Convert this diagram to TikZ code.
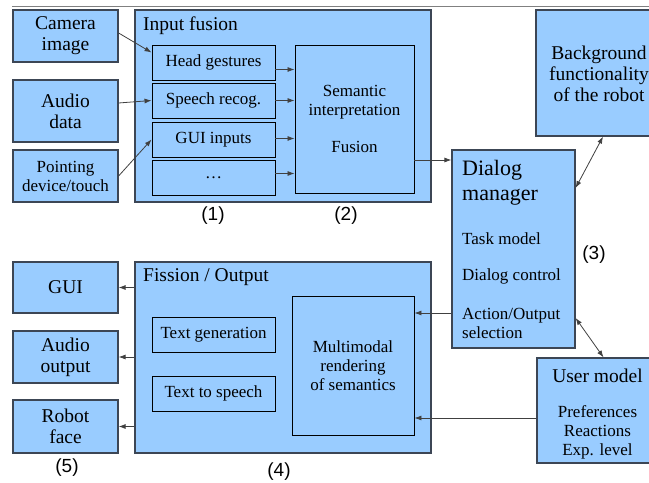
\documentclass[tikz,border=0pt]{standalone}
\usepackage{fontspec}
\setmainfont{Liberation Serif}
\newfontfamily\numfont{Liberation Sans}
\usetikzlibrary{arrows.meta,calc}
\definecolor{boxblue}{RGB}{153,204,255}
\definecolor{edgegray}{RGB}{60,70,85}
\def\smallfont{\rmfamily\fontsize{17bp}{19bp}\selectfont}
\def\midfont{\rmfamily\fontsize{19.5bp}{21bp}\selectfont}
\def\bigfont{\rmfamily\fontsize{22bp}{25bp}\selectfont}

\begin{document}
\begin{tikzpicture}[x=1bp,y=-1bp,
    outer/.style={draw=edgegray,line width=1.2bp,fill=boxblue,inner sep=0pt},
    inner/.style={draw=black,line width=0.9bp,fill=boxblue,inner sep=0pt,
        minimum width=123bp,minimum height=35bp,font=\smallfont},
    io/.style={outer,minimum width=105bp,align=center,font=\midfont},
    arr/.style={draw=black!75,line width=0.8bp,-{Latex[length=7bp,width=5bp]}},
    both/.style={arr,{Latex[length=7bp,width=5bp]}-{Latex[length=7bp,width=5bp]}},
    num/.style={font=\numfont\fontsize{19bp}{21bp}\selectfont}]
    \useasboundingbox (0,0) rectangle (649,483);
    \draw[gray,line width=1bp] (12,7) -- (649,7);

    % inputs
    \node[io,minimum height=52bp] (cam) at (65.5,36) {Camera\\image};
    \node[io,minimum height=62bp] (aud) at (65.5,111) {Audio\\data};
    \node[io,minimum height=52bp,font=\smallfont] (pnt) at (65.5,176) {Pointing\\device/touch};

    % input fusion
    \node[outer,minimum width=296bp,minimum height=192bp] (fus) at (283,106) {};
    \node[anchor=west,inner sep=0pt,font=\midfont] at (143,26) {Input fusion};
    \node[inner] (head) at (213.5,62.5) {Head gestures};
    \node[inner] (speech) at (213.5,100.5) {Speech recog.};
    \node[inner] (guiin) at (213.5,139.5) {GUI inputs};
    \node[inner] (dots) at (213.5,177.5) {\dots};
    \node[inner,minimum width=119bp,minimum height=148bp,align=center] (sem) at (354.5,119)
        {Semantic\\interpretation\\[18bp]Fusion};

    % dialog manager
    \node[outer,minimum width=123bp,minimum height=198bp] (dm) at (513.5,249) {};
    \node[anchor=north west,inner sep=0pt,align=left,font=\bigfont] at (462,160) {Dialog\\manager};
    \node[anchor=west,inner sep=0pt,font=\smallfont] at (462,239) {Task model};
    \node[anchor=west,inner sep=0pt,font=\smallfont] at (462,276) {Dialog control};
    \node[anchor=north west,inner sep=0pt,align=left,font=\smallfont] at (462,308) {Action/Output\\selection};

    \node[outer,minimum width=126bp,minimum height=126bp] (bg) at (599,73) {};
    \node[align=center,inner sep=0pt,font=\midfont] at (599,74) {Background\\functionality\\of the robot};
    \node[outer,minimum width=121bp,minimum height=105bp] (um) at (597.5,410.5) {};
    \node[inner sep=0pt,font=\midfont] at (597.5,376) {User model};
    \node[align=center,inner sep=0pt,font=\smallfont] at (597.5,432) {Preferences\\Reactions\\Exp. level};

    % fission / output
    \node[outer,minimum width=296bp,minimum height=191bp] (fis) at (283,357.5) {};
    \node[anchor=west,inner sep=0pt,font=\midfont] at (143,277) {Fission / Output};
    \node[inner] (tgen) at (213.5,334.5) {Text generation};
    \node[inner] (tts) at (213.5,393.5) {Text to speech};
    \node[inner,minimum width=122bp,minimum height=139bp,align=center] (mm) at (353,365.5)
        {Multimodal\\rendering\\of semantics};

    % outputs
    \node[io,minimum height=51bp] (gui) at (65.5,287.5) {GUI};
    \node[io,minimum height=52bp] (aout) at (65.5,357) {Audio\\output};
    \node[io,minimum height=53bp] (face) at (65.5,426.5) {Robot\\face};

    % connectors
    \draw[arr] ([yshift=3bp]cam.east) -- ([yshift=10bp]head.west);
    \draw[arr] ([yshift=8bp]aud.east) -- (speech.west);
    \draw[arr] (pnt.east) -- (guiin.west);
    \foreach \n/\s in {head/-7,speech/0,guiin/1,dots/4}
        \draw[arr] ([yshift=\s bp]\n.east) -- ([yshift=\s bp]\n.east -| sem.west);
    \draw[arr] ([yshift=-41bp]sem.east) -- ([yshift=-41bp]sem.east -| dm.west);
    \draw[both] ([yshift=61bp]dm.east) -- ([xshift=4bp]bg.south);
    \draw[both] ([yshift=-69bp]dm.east) -- ([xshift=6bp]um.north);
    \draw[arr] ([yshift=-64bp]dm.west) -- ([yshift=-64bp]dm.west -| mm.east);
    \draw[arr] ([yshift=-7.5bp]um.west) -- ([yshift=-7.5bp]um.west -| mm.east);
    \foreach \n in {gui,aout,face}
        \draw[arr] (\n.east -| fis.west) -- (\n.east);

    % numbers
    \node[num] at (213,216) {(1)};
    \node[num] at (346,216) {(2)};
    \node[num] at (594,255) {(3)};
    \node[num] at (279,472) {(4)};
    \node[num] at (67,468) {(5)};
\end{tikzpicture}
\end{document}
